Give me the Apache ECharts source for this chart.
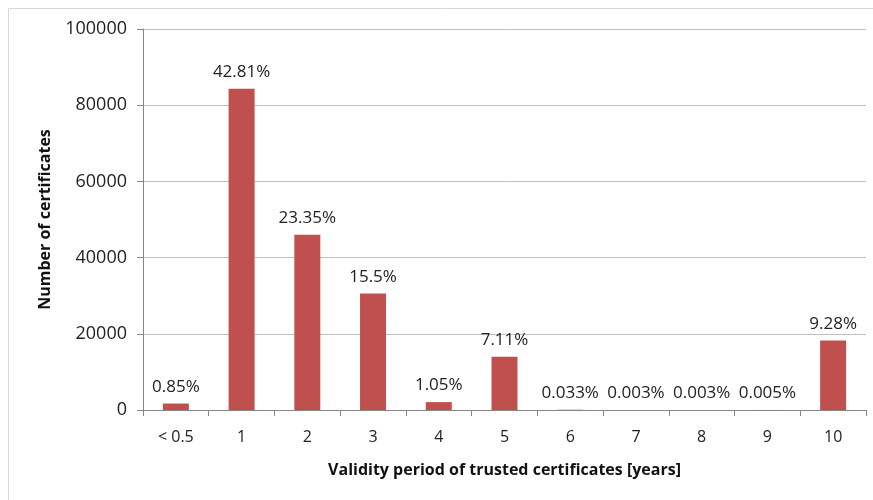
<!DOCTYPE html>
<html>
<head>
<meta charset="utf-8">
<script src="https://cdn.jsdelivr.net/npm/echarts@6/dist/echarts.min.js"></script>
<style>
  html, body { margin: 0; padding: 0; background: #fff; }
  #chart { width: 873px; height: 500px; }
</style>
</head>
<body>
<div id="chart"></div>
<script>
var categories = ["< 0.5", "1", "2", "3", "4", "5", "6", "7", "8", "9", "10"];
var counts = [1700, 84300, 46000, 30550, 2070, 14000, 65, 6, 6, 10, 18270];
var percentLabels = ["0.85%", "42.81%", "23.35%", "15.5%", "1.05%", "7.11%", "0.033%", "0.003%", "0.003%", "0.005%", "9.28%"];

var font = "'Open Sans', 'Liberation Sans', sans-serif";
var myChart = echarts.init(document.getElementById("chart"));
var option = {
  animation: false,
  graphic: [
    {
      type: "rect",
      shape: { x: 8.5, y: 8.5, width: 900, height: 600 },
      style: { fill: "none", stroke: "#d9d9d9", lineWidth: 1 },
      silent: true
    }
  ],
  grid: { left: 143, top: 29, right: 7, bottom: 90 },
  xAxis: {
    type: "category",
    data: categories,
    axisLine: { lineStyle: { color: "#868686" } },
    axisTick: { show: true, length: 6, alignWithLabel: false, lineStyle: { color: "#868686" } },
    axisLabel: { color: "#222", fontFamily: font, fontSize: 16, margin: 19 },
    name: "Validity period of trusted certificates [years]",
    nameLocation: "middle",
    nameGap: 52,
    nameTextStyle: { color: "#111", fontFamily: font, fontSize: 16, fontWeight: "bold" }
  },
  yAxis: {
    type: "value",
    min: 0,
    max: 100000,
    interval: 20000,
    axisLine: { show: true, lineStyle: { color: "#868686" } },
    axisTick: { show: true, length: 6, lineStyle: { color: "#868686" } },
    splitLine: { lineStyle: { color: "#bfbfbf" } },
    axisLabel: {
      color: "#222", fontFamily: font, fontSize: 18, margin: 16,
      formatter: function (v) { return String(v); }
    },
    name: "Number of certificates",
    nameLocation: "middle",
    nameGap: 90,
    nameTextStyle: { color: "#111", fontFamily: font, fontSize: 16, fontWeight: "bold" }
  },
  series: [
    {
      type: "bar",
      data: counts,
      barWidth: 26,
      itemStyle: { color: "#c0504d" },
      label: {
        show: true,
        position: "top",
        distance: 8,
        color: "#222",
        fontFamily: font,
        fontSize: 17,
        formatter: function (p) { return percentLabels[p.dataIndex]; }
      }
    }
  ]
};
myChart.setOption(option);
</script>
</body>
</html>
